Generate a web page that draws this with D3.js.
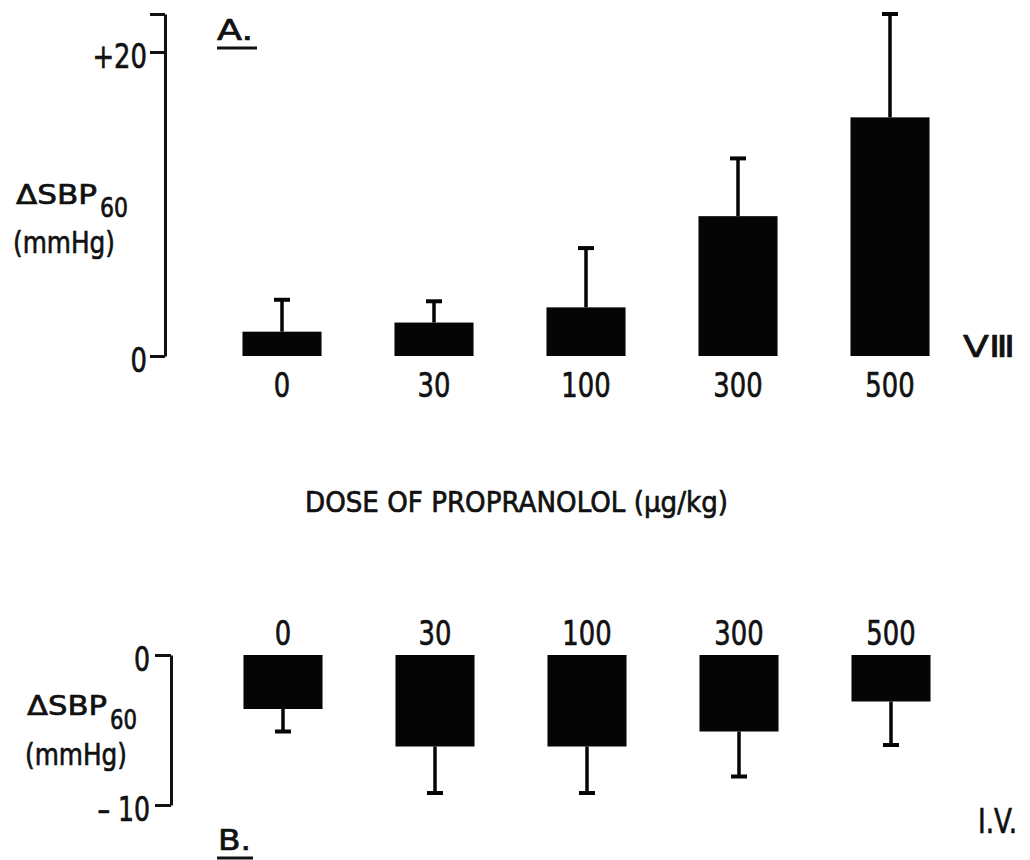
<!DOCTYPE html>
<html><head><meta charset="utf-8">
<script src="https://cdn.jsdelivr.net/npm/d3@7"></script>
<style>
body{margin:0;background:#fff}
svg{display:block;background:#fff}
text{font-family:"DejaVu Sans",sans-serif;fill:#111;stroke:#111;stroke-width:0.7px}
</style>
</head><body><svg id="c" width="1030" height="860"></svg>
<script>
// ---- data ----
const doses = ["0", "30", "100", "300", "500"];
const meanA = [1.6, 2.2, 3.2, 9.2, 15.7];      // ΔSBP60 after intra-ventricular dose (VIII)
const upperA = [3.7, 3.6, 7.1, 13.0, 22.5];    // top of error bar
const meanB = [-3.6, -6.1, -6.1, -5.1, -3.1];  // ΔSBP60 after i.v. dose
const lowerB = [-5.1, -9.2, -9.2, -8.1, -6.0]; // bottom of error bar
const ticksA = [0, 20, 22.5];
const tickLabelsA = ["0", "+20", ""];
const ticksB = [0, -10];
const tickLabelsB = ["0", "\u2013 10"];

const svg = d3.select("#c");
const ink = "#111";
const barInk = "#050505";

// condense a text to a fraction of its natural width (the original uses a narrow lettering)
function condense(sel, f) {
  sel.each(function () {
    const w = this.getComputedTextLength();
    if (w > 0) d3.select(this).attr("textLength", w * f).attr("lengthAdjust", "spacingAndGlyphs");
  });
}
function fit(sel, w) { sel.attr("textLength", w).attr("lengthAdjust", "spacingAndGlyphs"); return sel; }

const x = d3.scaleBand().domain(doses).range([206, 966]).paddingInner(0.48).paddingOuter(0.24);
const yA = d3.scaleLinear().domain([0, 22.5]).range([356, 14]);
const yB = d3.scaleLinear().domain([-10, 0]).range([805, 655]);

// ---- panel A ----
const gA = svg.append("g");
const axA = gA.append("g").attr("transform", "translate(165,0)")
  .call(d3.axisLeft(yA).tickValues(ticksA).tickSize(15).tickSizeOuter(0).tickPadding(3)
    .tickFormat((d, i) => tickLabelsA[i]));
axA.selectAll("path,line").attr("stroke", ink).attr("stroke-width", 3);
axA.selectAll("text").attr("font-size", 34).attr("dy", 15).attr("font-family", null).attr("fill", ink);
condense(axA.selectAll("text"), 0.76);

gA.selectAll("rect.bar").data(doses).join("rect").attr("class", "bar")
  .attr("x", d => x(d)).attr("width", x.bandwidth())
  .attr("y", (d, i) => yA(meanA[i])).attr("height", (d, i) => yA(0) - yA(meanA[i]))
  .attr("fill", barInk);
gA.selectAll("line.err").data(doses).join("line").attr("class", "err")
  .attr("x1", d => x(d) + x.bandwidth() / 2).attr("x2", d => x(d) + x.bandwidth() / 2)
  .attr("y1", (d, i) => yA(meanA[i])).attr("y2", (d, i) => yA(upperA[i]))
  .attr("stroke", barInk).attr("stroke-width", 3.5);
gA.selectAll("line.cap").data(doses).join("line").attr("class", "cap")
  .attr("x1", d => x(d) + x.bandwidth() / 2 - 8).attr("x2", d => x(d) + x.bandwidth() / 2 + 8)
  .attr("y1", (d, i) => yA(upperA[i])).attr("y2", (d, i) => yA(upperA[i]))
  .attr("stroke", barInk).attr("stroke-width", 4);
const xlA = gA.selectAll("text.xl").data(doses).join("text").attr("class", "xl")
  .attr("x", d => x(d) + x.bandwidth() / 2).attr("y", 397)
  .attr("text-anchor", "middle").attr("font-size", 34).text(d => d);
condense(xlA, 0.76);

// y label A
const la = gA.append("text").attr("x", 16).attr("y", 204).attr("font-size", 27);
fit(la.append("tspan").text("\u0394SBP"), 81);
fit(la.append("tspan").attr("x", 100).attr("y", 217).attr("font-size", 27).text("60"), 28);
fit(gA.append("text").attr("x", 13).attr("y", 253).attr("font-size", 31).text("(mmHg)"), 102);
fit(gA.append("text").attr("x", 217).attr("y", 40).attr("font-size", 28).text("A."), 36);
gA.append("line").attr("x1", 217).attr("x2", 257).attr("y1", 48).attr("y2", 48).attr("stroke", ink).attr("stroke-width", 3);
fit(gA.append("text").attr("x", 963).attr("y", 357).attr("font-size", 30).text("V\u2162"), 52);

// axis title
fit(svg.append("text").attr("x", 305).attr("y", 512).attr("font-size", 27.5)
  .text("DOSE OF PROPRANOLOL  (\u00b5g/kg)"), 423);

// ---- panel B ----
const gB = svg.append("g");
const axB = gB.append("g").attr("transform", "translate(171,0)")
  .call(d3.axisLeft(yB).tickValues(ticksB).tickSize(16).tickSizeOuter(0).tickPadding(5)
    .tickFormat((d, i) => tickLabelsB[i]));
axB.selectAll("path,line").attr("stroke", ink).attr("stroke-width", 3);
axB.selectAll("text").attr("font-size", 34).attr("dy", 15).attr("font-family", null).attr("fill", ink);
condense(axB.selectAll("text"), 0.74);

gB.selectAll("rect.bar").data(doses).join("rect").attr("class", "bar")
  .attr("x", d => x(d) + 1).attr("width", x.bandwidth())
  .attr("y", yB(0)).attr("height", (d, i) => yB(meanB[i]) - yB(0))
  .attr("fill", barInk);
gB.selectAll("line.err").data(doses).join("line").attr("class", "err")
  .attr("x1", d => x(d) + 1 + x.bandwidth() / 2).attr("x2", d => x(d) + 1 + x.bandwidth() / 2)
  .attr("y1", (d, i) => yB(meanB[i])).attr("y2", (d, i) => yB(lowerB[i]))
  .attr("stroke", barInk).attr("stroke-width", 3.5);
gB.selectAll("line.cap").data(doses).join("line").attr("class", "cap")
  .attr("x1", d => x(d) + 1 + x.bandwidth() / 2 - 8).attr("x2", d => x(d) + 1 + x.bandwidth() / 2 + 8)
  .attr("y1", (d, i) => yB(lowerB[i])).attr("y2", (d, i) => yB(lowerB[i]))
  .attr("stroke", barInk).attr("stroke-width", 4);
const xlB = gB.selectAll("text.xl").data(doses).join("text").attr("class", "xl")
  .attr("x", d => x(d) + 1 + x.bandwidth() / 2).attr("y", 645)
  .attr("text-anchor", "middle").attr("font-size", 34).text(d => d);
condense(xlB, 0.76);

const lb = gB.append("text").attr("x", 27).attr("y", 715).attr("font-size", 27);
fit(lb.append("tspan").text("\u0394SBP"), 80);
fit(lb.append("tspan").attr("x", 110).attr("y", 729).attr("font-size", 26).text("60"), 27);
fit(gB.append("text").attr("x", 25).attr("y", 765).attr("font-size", 30).text("(mmHg)"), 102);
fit(gB.append("text").attr("x", 218).attr("y", 850).attr("font-size", 29).text("B."), 33);
gB.append("line").attr("x1", 217).attr("x2", 253).attr("y1", 858).attr("y2", 858).attr("stroke", ink).attr("stroke-width", 3);
fit(gB.append("text").attr("x", 978).attr("y", 833).attr("font-size", 34).text("I.V."), 39);
</script></body></html>
